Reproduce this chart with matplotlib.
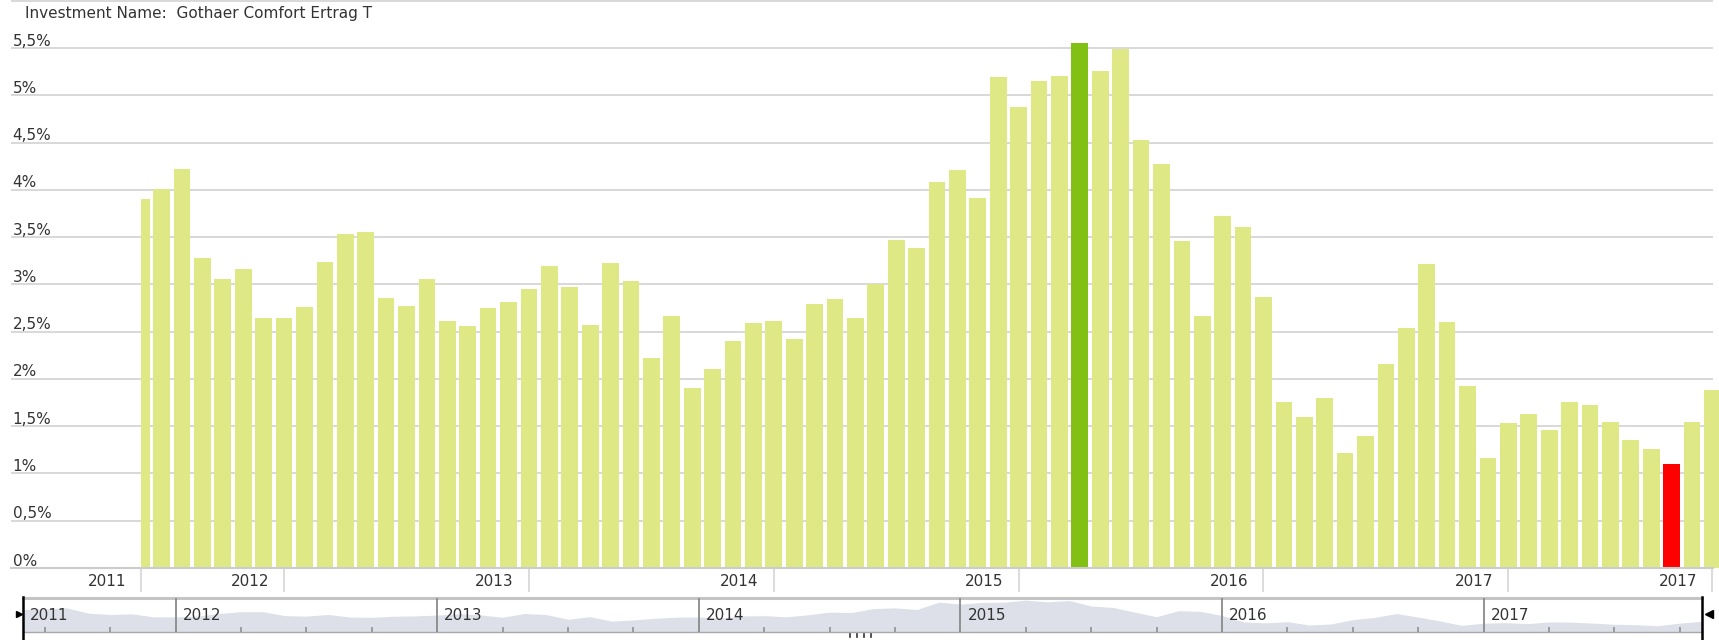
import matplotlib

matplotlib.use("Agg")
import matplotlib.pyplot as plt
from matplotlib.patches import Rectangle
import numpy as np

title = "Investment Name:  Gothaer Comfort Ertrag T"

# monthly rolling returns in %, June 2011 .. November 2017
returns = [
    3.90, 4.01, 4.22, 3.28, 3.06, 3.16, 2.64, 2.64, 2.76, 3.24,
    3.53, 3.55, 2.86, 2.77, 3.06, 2.61, 2.56, 2.75, 2.81, 2.95,
    3.20, 2.97, 2.57, 3.23, 3.04, 2.22, 2.67, 1.90, 2.11, 2.40,
    2.59, 2.61, 2.42, 2.79, 2.85, 2.65, 3.00, 3.47, 3.39, 4.08,
    4.21, 3.92, 5.20, 4.88, 5.15, 5.21, 5.55, 5.26, 5.49, 4.53,
    4.28, 3.46, 2.67, 3.72, 3.61, 2.87, 1.76, 1.60, 1.80, 1.22,
    1.40, 2.16, 2.54, 3.22, 2.60, 1.93, 1.16, 1.53, 1.63, 1.46,
    1.76, 1.72, 1.55, 1.35, 1.26, 1.10, 1.55, 1.88,
]

y_ticks = [0, 0.5, 1, 1.5, 2, 2.5, 3, 3.5, 4, 4.5, 5, 5.5]
y_labels = ["0%", "0,5%", "1%", "1,5%", "2%", "2,5%", "3%", "3,5%",
            "4%", "4,5%", "5%", "5,5%"]

# month index of the year breaks on the main axis and their labels
axis_breaks = [0, 7, 19, 31, 43, 55, 67, 77]
axis_years = ["2011", "2012", "2013", "2014", "2015", "2016", "2017", "2017"]

nav_breaks = [0, 7, 19, 31, 43, 55, 67]
nav_years = ["2011", "2012", "2013", "2014", "2015", "2016", "2017"]

W, H = 1719, 640
bar_color = "#dee885"
best_color = "#82c014"
worst_color = "#ff0000"
text_color = "#333333"
grid_color = "#d8d8d8"
fs = 11

plt.rcParams["font.family"] = ["DejaVu Sans"]
fig = plt.figure(figsize=(W / 100, H / 100), dpi=100)

# main chart
ax = fig.add_axes([11 / W, 72 / H, 1702 / W, 568 / H])
x = np.arange(len(returns))
colors = [bar_color] * len(returns)
colors[int(np.argmax(returns))] = best_color
colors[int(np.argmin(returns))] = worst_color
bars = ax.bar(x, returns, width=0.82, color=colors, zorder=2)
ax.set_xlim(-6.383, 77.03)
ax.set_ylim(0, 6.01)

clip = Rectangle((0, -1), 100, 10, transform=ax.transData)
for b in bars:
    b.set_clip_path(clip)

for v in np.arange(0.5, 6.01, 0.5):
    ax.axhline(v, color=grid_color, lw=1.4, zorder=1)
ax.axhline(0, color="#cccccc", lw=1.5, zorder=3, clip_on=False)

for s in ax.spines.values():
    s.set_visible(False)
ax.set_yticks([])
ax.set_xticks(axis_breaks)
ax.set_xticklabels([])
ax.tick_params(axis="x", length=17.3, width=1.2, color="#d6d6d6", direction="out")

for v, lab in zip(y_ticks, y_labels):
    ax.annotate(lab, xy=(0, v), xycoords=("axes fraction", "data"),
                xytext=(1.5, 2.5), textcoords="offset pixels",
                ha="left", va="baseline", fontsize=fs, color=text_color)

for b, lab in zip(axis_breaks, axis_years):
    ax.annotate(lab, xy=(b, 0), xycoords="data",
                xytext=(-15, -13), textcoords="offset pixels",
                ha="right", va="center", fontsize=fs, color=text_color)

fig.text(25 / W, 1 - 13.5 / H, title, ha="left", va="center",
         fontsize=fs, color=text_color)

# navigator
nav = fig.add_axes([23 / W, 8 / H, 1678.7 / W, 34 / H])
nav.fill_between(x, returns, 0, color="#dde0e9", lw=0)
nav.set_xlim(0, 77)
nav.set_ylim(0, 5.93)
nav.axis("off")

xa = nav.get_xaxis_transform()
nav.plot([0, 1], [1, 1], transform=nav.transAxes, color="#c4c4c4", lw=2.2,
         clip_on=False)
nav.plot([0, 1], [0, 0], transform=nav.transAxes, color="#a8a8a8", lw=1,
         clip_on=False)

for b in nav_breaks[1:]:
    nav.plot([b, b], [0, 1], transform=xa, color="#8a8a8a", lw=1.3)
minor = [m for m in range(1, 77, 3) if m not in nav_breaks]
nav.vlines(minor, 0, 5 / 34, transform=xa, color="#8a8a8a", lw=1.1)

for b, lab in zip(nav_breaks, nav_years):
    nav.annotate(lab, xy=(b, 0.5), xycoords=("data", "axes fraction"),
                 xytext=(7, 0), textcoords="offset pixels",
                 ha="left", va="center", fontsize=fs, color=text_color)

# handles
for hx in (0, 77):
    nav.plot([hx, hx], [1.02, -8 / 34], transform=xa, color="black", lw=1.8,
             clip_on=False)
nav.plot([-0.19], [0.52], transform=xa, marker=">", ms=4.5, color="black",
         clip_on=False)
nav.plot([77.35], [0.53], transform=xa, marker="<", ms=6, color="black",
         clip_on=False)

# scrollbar grip
for gx in (37.95, 38.27, 38.59, 38.91):
    nav.plot([gx, gx], [-1.5 / 34, -5 / 34], transform=xa, color="#333333",
             lw=1.2, clip_on=False)

fig.savefig("out.png", dpi=100)
plt.close(fig)
